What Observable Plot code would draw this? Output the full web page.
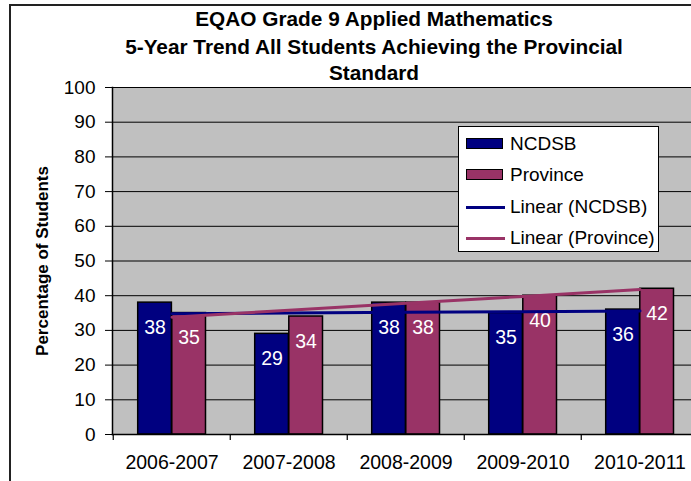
<!DOCTYPE html>
<html>
<head>
<meta charset="utf-8">
<script src="https://cdn.jsdelivr.net/npm/d3@7"></script>
<script src="https://cdn.jsdelivr.net/npm/@observablehq/plot@0.6"></script>
<style>
  html, body { margin: 0; padding: 0; background: #fff; overflow: hidden; }
  #wrap { position: relative; width: 691px; height: 481px; overflow: hidden; font-family: "Liberation Sans", Arial, sans-serif; }
  #border { position: absolute; left: 9px; top: 4px; width: 800px; height: 600px; border-left: 2px solid #222; border-top: 2px solid #222; pointer-events: none; }
  .title { position: absolute; left: 0; width: 748px; text-align: center; font-weight: bold; font-size: 20.8px; line-height: 1; color: #000; }
  #ylabel { position: absolute; left: 43px; top: 261px; transform: translate(-50%, -50%) rotate(-90deg); font-weight: bold; font-size: 17px; white-space: nowrap; }
  #legend { position: absolute; left: 458px; top: 126px; width: 199px; height: 124px; background: #fff; border: 1px solid #000; }
  .sw { position: absolute; left: 7px; width: 35px; height: 9px; border: 1px solid #000; }
  .ln { position: absolute; left: 7px; width: 39px; height: 3px; }
  .lt { position: absolute; left: 51px; font-size: 19px; line-height: 1; white-space: nowrap; }
  #chart { position: absolute; left: 0; top: 0; }
</style>
</head>
<body>
<div id="wrap">
  <div id="chart"></div>
  <div id="border"></div>
  <div class="title" style="top:9px">EQAO Grade 9 Applied Mathematics</div>
  <div class="title" style="top:37px">5-Year Trend All Students Achieving the Provincial</div>
  <div class="title" style="top:63px">Standard</div>
  <div id="ylabel">Percentage of Students</div>
  <div id="legend"></div>
</div>
<script>
const years = ["2006-2007", "2007-2008", "2008-2009", "2009-2010", "2010-2011"];
const ncdsb = [38, 29, 38, 35, 36];
const province = [35, 34, 38, 40, 42];
const yTicks = [0, 10, 20, 30, 40, 50, 60, 70, 80, 90, 100];
const seriesNames = ["NCDSB", "Province"];
const seriesColors = ["#000080", "#993366"];
const legendLabels = ["NCDSB", "Province", "Linear (NCDSB)", "Linear (Province)"];

// least-squares trend for a series
function trend(values) {
  const xs = values.map((_, i) => i + 1);
  const mx = d3.mean(xs), my = d3.mean(values);
  const slope = d3.sum(xs, (x, i) => (x - mx) * (values[i] - my)) / d3.sum(xs, x => (x - mx) ** 2);
  return xs.map(x => my + slope * (x - mx));
}

const rowsN = years.map((y, i) => ({year: y, value: ncdsb[i]}));
const rowsP = years.map((y, i) => ({year: y, value: province[i]}));
const trendN = trend(ncdsb).map((v, i) => ({year: years[i], value: v}));
const trendP = trend(province).map((v, i) => ({year: years[i], value: v}));

const W = 691, H = 481, mL = 112, mT = 87, mB = 47;
const bandW = 117.5;
const plotH = H - mT - mB;

const chart = Plot.plot({
  width: W,
  height: H,
  marginLeft: mL,
  marginRight: 0,
  marginTop: mT,
  marginBottom: mB,
  style: {background: "none", fontFamily: "'Liberation Sans', Arial, sans-serif", fontSize: "19px", color: "#000", overflow: "visible"},
  x: {domain: years, range: [mL, mL + bandW * years.length], padding: 0, label: null},
  y: {domain: [0, 100], label: null},
  marks: [
    Plot.frame({fill: "#c0c0c0", stroke: null}),
    Plot.gridY(yTicks.filter(d => d > 0), {stroke: "#000", strokeOpacity: 1, strokeWidth: 1}),
    Plot.barY(rowsN, {x: "year", y: "value", fill: seriesColors[0], stroke: "#000", strokeWidth: 1.5, insetLeft: 24.7, insetRight: 58.6}),
    Plot.barY(rowsP, {x: "year", y: "value", fill: seriesColors[1], stroke: "#000", strokeWidth: 1.5, insetLeft: 58.8, insetRight: 24.5}),
    Plot.text(rowsN, {x: "year", y: "value", text: d => String(d.value), dx: -17, dy: 25, fill: "#fff", fontSize: 19.5}),
    Plot.text(rowsP, {x: "year", y: "value", text: d => String(d.value), dx: 17, dy: 25, fill: "#fff", fontSize: 19.5}),
    Plot.line(trendN, {x: "year", y: "value", stroke: seriesColors[0], strokeWidth: 3}),
    Plot.line(trendP, {x: "year", y: "value", stroke: seriesColors[1], strokeWidth: 3}),
    Plot.frame({anchor: "left", stroke: "#000", strokeWidth: 1.5}),
    Plot.frame({anchor: "bottom", stroke: "#000", strokeWidth: 1.5}),
    Plot.axisY({ticks: yTicks, tickSize: 7, tickPadding: 10, fontSize: 19, label: null}),
    Plot.ruleX(years, {x: d => d, dx: -bandW / 2, stroke: "#000", strokeWidth: 1.2, insetTop: plotH, insetBottom: -6}),
    Plot.axisX({tickSize: 0, tickPadding: 21, fontSize: 19.5, label: null})
  ]
});
document.getElementById("chart").appendChild(chart);

// legend
const legend = document.getElementById("legend");
const rowY = [17, 48, 80, 111];
legendLabels.forEach((lab, i) => {
  if (i < 2) {
    const s = document.createElement("div");
    s.className = "sw";
    s.style.top = (rowY[i] - 6) + "px";
    s.style.background = seriesColors[i];
    legend.appendChild(s);
  } else {
    const l = document.createElement("div");
    l.className = "ln";
    l.style.top = (rowY[i] - 1.5) + "px";
    l.style.background = seriesColors[i - 2];
    legend.appendChild(l);
  }
  const t = document.createElement("div");
  t.className = "lt";
  t.style.top = (rowY[i] - 10) + "px";
  t.textContent = lab;
  legend.appendChild(t);
});
</script>
</body>
</html>
